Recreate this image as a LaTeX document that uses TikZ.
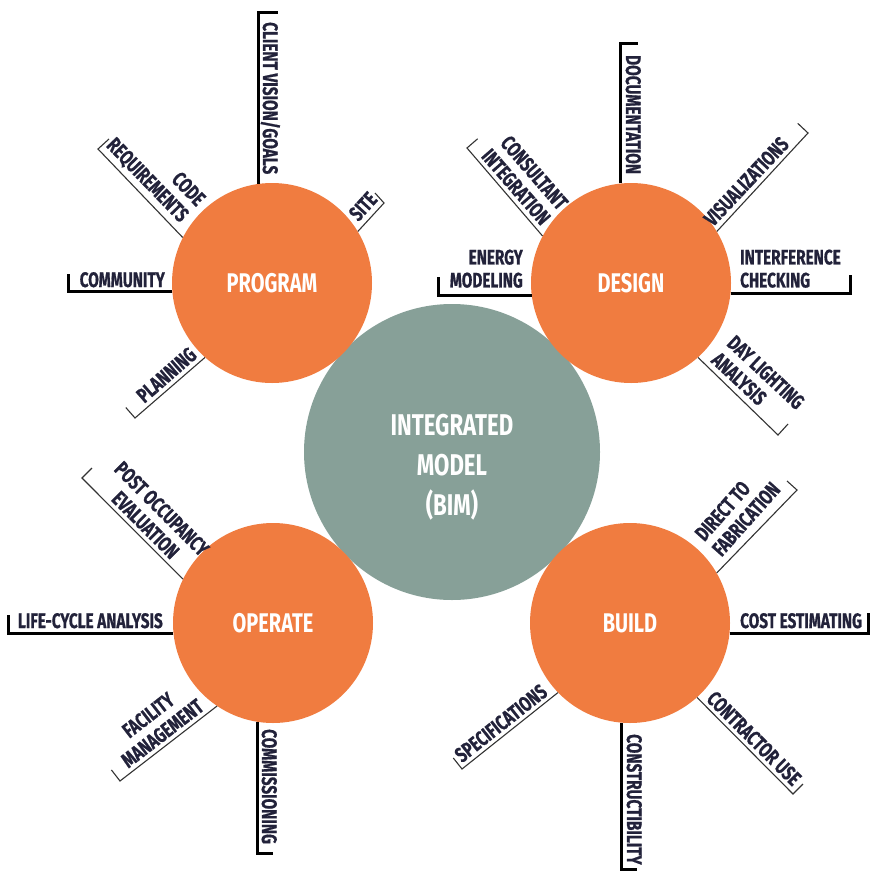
\documentclass[tikz,border=0pt]{standalone}
\usepackage{fontspec}
\setmainfont{Fira Sans}[FakeStretch=0.74]
\newfontfamily\lblfont{Fira Sans}[FakeStretch=0.73, BoldFeatures={FakeBold=0.7}]
\definecolor{orangeC}{HTML}{F07C40}
\definecolor{bimC}{HTML}{87A098}
\definecolor{txtC}{HTML}{22223A}
\tikzset{
  hub/.style={circle, fill=orangeC, minimum size=200pt, inner sep=0pt, text=white,
              font=\fontsize{27}{30}\selectfont\bfseries},
  bimc/.style={circle, fill=bimC, minimum size=296pt, inner sep=0pt},
  bimtext/.style={inner sep=0pt, text=white, align=center,
              font=\fontsize{30}{40}\selectfont\bfseries},
  thickline/.style={line width=3pt, black, line join=miter},
  thinline/.style={line width=1.1pt, black!80, line join=miter},
  lbl/.style={inner sep=0pt, text=txtC, font=\lblfont\fontsize{21}{23}\selectfont\bfseries},
}
\begin{document}
\begin{tikzpicture}[x=1pt,y=-1pt]
\useasboundingbox (0,0) rectangle (870,873);
\fill[white] (0,0) rectangle (870,873);
% circles
\node[bimc] (bim) at (452,452) {};
\node[bimtext] (bimlbl) at (452,467) {INTEGRATED\\MODEL\\(BIM)};
\node[hub] (prog) at (272,283) {PROGRAM};
\node[hub] (des) at (631,283) {DESIGN};
\node[hub] (op) at (273,623) {OPERATE};
\node[hub] (bld) at (630,623) {BUILD};

% ---------- PROGRAM ----------
\coordinate (clientE) at (258,12);
\draw[thickline] (prog.98) -- (prog.98 |- clientE) -- ++(20,0);
\node[lbl, rotate=-90, anchor=base west] (clientL) at (263,22) {CLIENT VISION/GOALS};

\coordinate (codeE) at (98,149); \coordinate (codeT) at (109,139);
\draw[thinline] (prog.153) -- (codeE) -- (codeT);
\node[lbl, rotate=-46, anchor=south east, align=right] (codeL) at (177.6,225.6) {CODE\\REQUIREMENTS};

\coordinate (siteE) at (384,203); \coordinate (siteT) at (375,193);
\draw[thinline] (prog.31) -- (siteE) -- (siteT);
\node[lbl, rotate=47.6, anchor=south west] (siteL) at (358.7,222.7) {SITE};

\coordinate (commE) at (68,292);
\draw[thickline] (prog.185) -- (prog.185 -| commE) -- ++(0,-18);
\node[lbl, anchor=base east] (commL) at (165,287) {COMMUNITY};

\coordinate (planE) at (135,418); \coordinate (planT) at (125.8,407.5);
\draw[thinline] (prog.228) -- (planE) -- (planT);
\node[lbl, rotate=41.2, anchor=south east] (planL) at (198.4,357.3) {PLANNING};

% ---------- DESIGN ----------
\coordinate (docE) at (621,43);
\draw[thickline] (des.96) -- (des.96 |- docE) -- ++(17,0);
\node[lbl, rotate=-90, anchor=base west] (docL) at (626,55) {DOCUMENTATION};

\coordinate (consE) at (467,148); \coordinate (consT) at (477.6,138.8);
\draw[thinline] (des.152) -- (consE) -- (consT);
\node[lbl, rotate=-49, anchor=south east, align=right] (consL) at (540.5,226.8) {CONSULTANT\\INTEGRATION};

\coordinate (visE) at (808,133); \coordinate (visT) at (797.8,123.4);
\draw[thinline] (des.31) -- (visE) -- (visT);
\node[lbl, rotate=46.8, anchor=south west] (visL) at (713.5,227.8) {VISUALIZATIONS};

\coordinate (enE) at (438,295);
\draw[thickline] (des.187) -- (des.187 -| enE) -- ++(0,-18);
\node[lbl, align=right, anchor=south east] (enL) at (523,288) {ENERGY\\MODELING};

\coordinate (intE) at (850,294);
\draw[thickline] (des.354) -- (des.354 -| intE) -- ++(0,-18);
\node[lbl, align=left, anchor=south west] (intL) at (740,288) {INTERFERENCE\\CHECKING};

\coordinate (dayE) at (778,435); \coordinate (dayT) at (788,424);
\draw[thinline] (des.312) -- (dayE) -- (dayT);
\node[lbl, rotate=-43, anchor=south west, align=left] (dayL) at (709.7,362) {DAY LIGHTING\\ANALYSIS};

% ---------- OPERATE ----------
\coordinate (postE) at (82,478); \coordinate (postT) at (91.9,468.1);
\draw[thinline] (op.154) -- (postE) -- (postT);
\node[lbl, rotate=-45, anchor=south, align=center] (postL) at (140,530.5) {POST OCCUPANCY\\EVALUATION};

\coordinate (lifeE) at (8,633);
\draw[thickline] (op.186) -- (op.186 -| lifeE) -- ++(0,-18);
\node[lbl, anchor=base east] (lifeL) at (163,628) {LIFE-CYCLE ANALYSIS};

\coordinate (facE) at (120,781); \coordinate (facT) at (111.4,769.9);
\draw[thinline] (op.236) -- (facE) -- (facT);
\node[lbl, rotate=37.7, anchor=south, align=center] (facL) at (167.1,739.5) {FACILITY\\MANAGEMENT};

\coordinate (comE) at (257,853);
\draw[thickline] (op.261) -- (op.261 |- comE) -- ++(16,0);
\node[lbl, rotate=-90, anchor=base west] (comL) at (262,729) {COMMISSIONING};

% ---------- BUILD ----------
\coordinate (dirE) at (797,490); \coordinate (dirT) at (787,481);
\draw[thinline] (bld.30) -- (dirE) -- (dirT);
\node[lbl, rotate=48.4, anchor=south west, align=left] (dirL) at (722,558) {DIRECT TO\\FABRICATION};

\coordinate (costE) at (868,634);
\draw[thickline] (bld.354) -- (bld.354 -| costE) -- ++(0,-20);
\node[lbl, anchor=base west] (costL) at (740,628) {COST ESTIMATING};

\coordinate (conE) at (793,794); \coordinate (conT) at (802.9,784.1);
\draw[thinline] (bld.312) -- (conE) -- (conT);
\node[lbl, rotate=-45, anchor=south west] (conL) at (705,700.4) {CONTRACTOR USE};

\coordinate (cstE) at (622,869);
\draw[thickline] (bld.265) -- (bld.265 |- cstE) -- ++(16,0);
\node[lbl, rotate=-90, anchor=base west] (cstL) at (627,734) {CONSTRUCTIBILITY};

\coordinate (specE) at (462,769); \coordinate (specT) at (453.3,758);
\draw[thinline] (bld.224) -- (specE) -- (specT);
\node[lbl, rotate=38.4, anchor=south east] (specL) at (549.2,694.9) {SPECIFICATIONS};
\end{tikzpicture}
\end{document}
